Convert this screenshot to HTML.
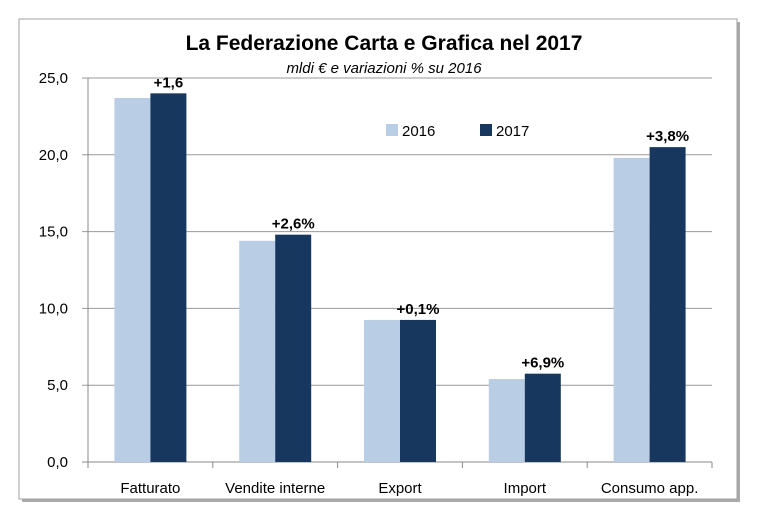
<!DOCTYPE html>
<html><head><meta charset="utf-8"><style>
body{margin:0;background:#fff;width:768px;height:520px;overflow:hidden;font-family:"Liberation Sans",sans-serif}
</style></head><body>
<svg width="768" height="520" xmlns="http://www.w3.org/2000/svg">
<rect x="22" y="22" width="718" height="480" fill="#aaa"/>
<rect x="19" y="19" width="718" height="480" fill="#fff" stroke="#a0a0a0" stroke-width="1"/>
<text x="384" y="50" text-anchor="middle" font-size="21" font-weight="bold" fill="#000">La Federazione Carta e Grafica nel 2017</text>
<text x="384" y="73" text-anchor="middle" font-size="15" font-style="italic" fill="#000">mldi € e variazioni % su 2016</text>
<g id="plot"></g>
<g>
<rect x="386" y="124" width="12" height="12" fill="#b9cde5"/>
<text x="402" y="136" font-size="15">2016</text>
<rect x="480" y="124" width="12" height="12" fill="#17375e"/>
<text x="496" y="136" font-size="15">2017</text>
</g>
</svg>
<script>
const categories=["Fatturato","Vendite interne","Export","Import","Consumo app."];
const values2016=[23.7,14.4,9.25,5.4,19.8];
const values2017=[24.0,14.8,9.25,5.75,20.5];
const changeLabels=["+1,6","+2,6%","+0,1%","+6,9%","+3,8%"];
const yTicks=[0,5,10,15,20,25];
const yTickLabels=["0,0","5,0","10,0","15,0","20,0","25,0"];
const NS="http://www.w3.org/2000/svg";
const g=document.getElementById('plot');
const x0=88,x1=712,y0=462,y1=78,yMax=25;
const y=v=>y0-(v/yMax)*(y0-y1);
const cw=(x1-x0)/categories.length;
const bw=36;
function mk(t,a){const e=document.createElementNS(NS,t);for(const k in a)e.setAttribute(k,a[k]);g.appendChild(e);return e;}
yTicks.forEach((t,i)=>{
 const l=mk('line',{x1:82,x2:x1,y1:y(t),y2:y(t),stroke:t===0?'#888':'#999','stroke-width':1});
 
 
 const tx=mk('text',{x:68,y:y(t)+5,'text-anchor':'end','font-size':15,fill:'#000'});
 tx.textContent=yTickLabels[i];
 
 
});
const ax=mk('line',{x1:x0,x2:x0,y1:y1,y2:y0,stroke:'#888'});


for(let i=0;i<=categories.length;i++){
 const t=mk('line',{x1:x0+i*cw,x2:x0+i*cw,y1:y0,y2:y0+6,stroke:'#888'});
 
 
}
categories.forEach((c,i)=>{
 const cx=x0+cw*(i+0.5);
 const b1=mk('rect',{x:cx-bw,y:y(values2016[i]),width:bw,height:y0-y(values2016[i]),fill:'#b9cde5'});
 
 
 const b2=mk('rect',{x:cx,y:y(values2017[i]),width:bw,height:y0-y(values2017[i]),fill:'#17375e'});
 
 
 const lb=mk('text',{x:cx+bw/2,y:y(values2017[i])-6,'text-anchor':'middle','font-size':15,'font-weight':'bold'});
 lb.textContent=changeLabels[i];
 
 
 const cl=mk('text',{x:cx,y:493,'text-anchor':'middle','font-size':15});
 cl.textContent=c;
 
 
});
</script>
</body></html>
